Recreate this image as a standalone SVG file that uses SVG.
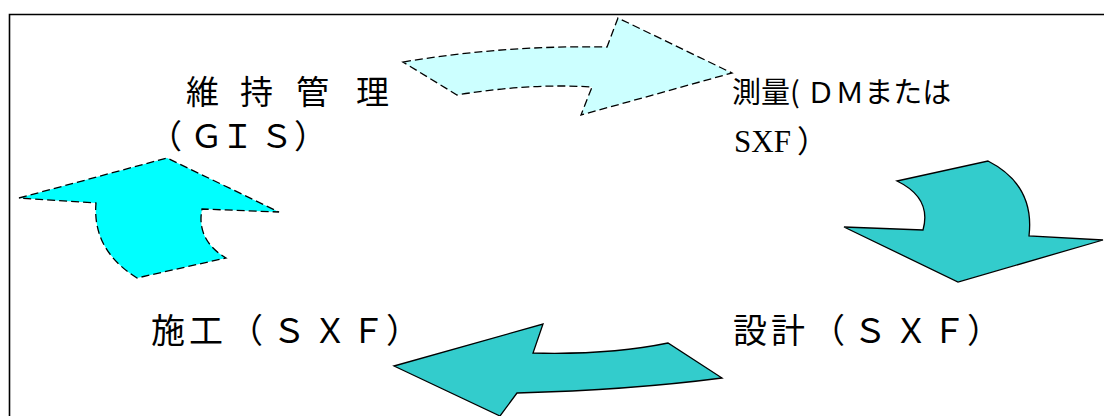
<svg xmlns="http://www.w3.org/2000/svg" width="1104" height="416" viewBox="0 0 1104 416">
<style>
.lbl{font-family:"Noto Sans CJK JP","Noto Sans CJK SC",sans-serif;fill:#000}
.dash{stroke:#000;stroke-width:1.3;stroke-dasharray:8 4;stroke-linejoin:miter}
.solid{stroke:#000;stroke-width:1.3;stroke-linejoin:miter}
</style>
<rect width="1104" height="416" fill="#fff"/>
<path d="M9.5,416 V14.5 H1104" fill="none" stroke="#000" stroke-width="1.6"/>
<g id="connectors">
<path id="arrow-top" class="dash" fill="#CCFFFF" d="M403,62 Q505,45 607,47 L618,18 L732,73 L581,115 L592,87 Q530,83 457,95 Z"/>
<path id="arrow-right" class="solid" fill="#33CCCC" d="M897,181 L988,161 Q1035,185 1029,236 L1103,240 L958,282 L844,227 L923,230 Q932,198 897,181 Z"/>
<path id="arrow-bottom" class="solid" fill="#33CCCC" d="M394,366 L543,324 L533,353 Q610,355 668,343 L722,378 Q630,390 517,393 L500,416 Z"/>
<path id="arrow-left" class="dash" fill="#00FFFF" d="M19,198 L167,158 L279,212 L202,209 Q196,240 226,258 L137,278 Q92,250 96,203 Z"/>
</g>
<g id="node-maintenance">
<text class="lbl" font-size="33" x="186 220 240 275 296 330 356" y="104">維 持 管 理</text>
<text class="lbl" font-size="33" y="148" x="149 190 221 260 294">（ＧＩＳ）</text>
</g>
<g id="node-survey">
<text class="lbl" font-size="29" x="732" y="103">測量( ＤＭまたは</text>
<text font-size="31" x="734" y="152"><tspan font-family="'Liberation Serif',serif">SXF</tspan><tspan class="lbl" dx="6">）</tspan></text>
</g>
<g id="node-design">
<text class="lbl" font-size="34" x="733 771 811 853 894 932 967" y="343">設計（ＳＸＦ）</text>
</g>
<g id="node-construction">
<text class="lbl" font-size="34" x="151 189 229 272 313 351 386" y="343">施工（ＳＸＦ）</text>
</g>
</svg>
